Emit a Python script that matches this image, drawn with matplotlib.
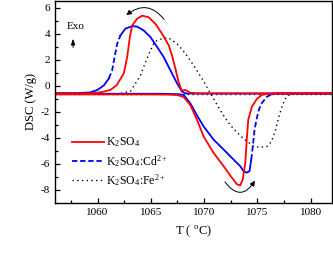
import numpy as np
import matplotlib.pyplot as plt
from matplotlib.patches import FancyArrowPatch

plt.rcParams['font.family'] = ['Liberation Serif', 'DejaVu Serif']
plt.rcParams['mathtext.fontset'] = 'stix'
plt.rcParams['axes.unicode_minus'] = False

# K2SO4 : cooling (exo) and heating (endo) branches
k_cool_T = [1056, 1058, 1059.5, 1060.3, 1061.2, 1061.8, 1062.46, 1062.78, 1063.03, 1063.24,
            1063.7, 1064.18, 1064.8, 1065.43, 1066.05, 1066.68, 1067.0, 1067.3, 1067.6,
            1067.9, 1068.24, 1068.7, 1069.5, 1072, 1076, 1082]
k_cool_D = [-0.58, -0.58, -0.56, -0.48, -0.31, 0.07, 0.96, 2.23, 3.76, 4.65,
            5.16, 5.41, 5.28, 4.78, 4.02, 3.12, 2.3, 1.35, 0.3,
            -0.35, -0.31, -0.52, -0.57, -0.57, -0.57, -0.57]
k_heat_T = [1056, 1064, 1066.5, 1067.5, 1068.08, 1068.7, 1069.33, 1069.95, 1070.89, 1071.83,
            1072.6, 1073.08, 1073.39, 1073.63, 1073.86, 1074.0, 1074.14, 1074.48, 1074.95,
            1075.42, 1075.9, 1077, 1082]
k_heat_D = [-0.65, -0.65, -0.66, -0.7, -0.85, -1.46, -2.6, -3.88, -5.15, -6.17,
            -7.05, -7.56, -7.64, -7.18, -5.91, -4.13, -2.6, -1.6, -1.0,
            -0.69, -0.6, -0.58, -0.58]

# K2SO4:Cd2+
cd_cool_T = [1056, 1058, 1059.3, 1060, 1060.6, 1061.06, 1061.37, 1061.6, 1061.84, 1062.15,
             1062.6, 1063.24, 1063.7, 1064.33, 1064.96, 1065.59, 1066.2, 1066.83, 1067.46,
             1067.93, 1068.3, 1070, 1082]
cd_cool_D = [-0.55, -0.55, -0.5, -0.3, 0.05, 0.58, 1.21, 2.23, 3.25, 3.89,
             4.4, 4.6, 4.57, 4.27, 3.76, 3.0, 2.23, 1.21, 0.2,
             -0.44, -0.58, -0.58, -0.58]
cd_heat_T = [1056, 1066, 1067.5, 1068.08, 1068.7, 1069.3, 1069.95, 1070.89, 1071.83, 1072.76,
             1073.39, 1073.7, 1074.0, 1074.26, 1074.42, 1074.57, 1074.73, 1074.95, 1075.15,
             1075.4, 1075.9, 1076.35, 1076.8, 1082]
cd_heat_D = [-0.6, -0.6, -0.63, -0.69, -1.33, -2.22, -3.11, -4.13, -4.89, -5.66,
             -6.17, -6.55, -6.67, -6.55, -5.66, -4.64, -3.37, -2.45, -1.8,
             -1.33, -0.82, -0.64, -0.57, -0.57]

# K2SO4:Fe2+
fe_T = [1056, 1062, 1063.09, 1063.56, 1064.03, 1064.33, 1064.64, 1064.96, 1065.27, 1065.59,
        1066.05, 1066.6, 1067.05, 1067.5, 1068.0, 1068.5, 1069.0, 1069.5, 1070.0, 1070.5,
        1071.0, 1071.5, 1072.0, 1072.5, 1073.0, 1073.5, 1074.0, 1074.6, 1075.2, 1075.9,
        1076.3, 1076.7, 1077.0, 1077.3, 1077.6, 1078.0, 1078.5, 1082]
fe_D = [-0.6, -0.6, -0.4, 0.2, 0.83, 1.47, 2.1, 2.74, 3.25, 3.5,
        3.63, 3.71, 3.5, 3.2, 2.74, 2.2, 1.6, 0.95, 0.3, -0.45,
        -1.15, -1.85, -2.5, -3.05, -3.5, -3.9, -4.25, -4.6, -4.72, -4.65,
        -4.3, -3.4, -2.4, -1.6, -1.0, -0.7, -0.62, -0.62]
fe_base_T = [1056, 1082]
fe_base_D = [-0.65, -0.65]

fig = plt.figure(figsize=(3.33, 2.65), dpi=100)
ax = fig.add_axes([0.165, 0.234, 0.832, 0.763])

lw = 1.3
dot = (0, (1, 2.4))
dash = (0, (3, 1.5))
ax.plot(fe_base_T, fe_base_D, color='k', lw=1.0, ls=dot)
ax.plot(fe_T, fe_D, color='k', lw=1.0, ls=dot, label='K$_\\mathregular{2}$SO$_\\mathregular{4}$:Fe$^\\mathregular{2+}$')

# blue: solid where gentle, dashed on the steep edges (as drawn in the original)
cT, cD = np.array(cd_cool_T), np.array(cd_cool_D)
ax.plot(cT[:6], cD[:6], color='b', lw=lw)
ax.plot(cT[5:10], cD[5:10], color='b', lw=lw, ls=dash)
ax.plot(cT[9:], cD[9:], color='b', lw=lw)
hT, hD = np.array(cd_heat_T), np.array(cd_heat_D)
ax.plot(hT[:15], hD[:15], color='b', lw=lw)
ax.plot(hT[14:22], hD[14:22], color='b', lw=lw, ls=dash)
ax.plot(hT[21:], hD[21:], color='b', lw=lw)
ax.plot([], [], color='b', lw=lw, ls=dash, label='K$_\\mathregular{2}$SO$_\\mathregular{4}$:Cd$^\\mathregular{2+}$')

ax.plot(k_heat_T, k_heat_D, color='r', lw=lw)
ax.plot(k_cool_T, k_cool_D, color='r', lw=lw, label='K$_\\mathregular{2}$SO$_\\mathregular{4}$')

# curved arrows
ax.add_patch(FancyArrowPatch((1066.4, 4.95), (1062.5, 5.3), connectionstyle='arc3,rad=0.55',
                             arrowstyle='-|>,head_length=3,head_width=1.5', color='k', lw=0.7))
ax.add_patch(FancyArrowPatch((1071.8, -7.2), (1074.9, -7.1), connectionstyle='arc3,rad=0.8',
                             arrowstyle='-|>,head_length=3,head_width=1.5', color='k', lw=0.7))

ax.text(1057.9, 4.55, 'Exo', fontsize=8, ha='center', va='center')
ax.annotate('', xy=(1057.7, 3.85), xytext=(1057.7, 2.75),
            arrowprops=dict(arrowstyle='-|>,head_length=0.35,head_width=0.12', color='k', lw=0.7))

h, l = ax.get_legend_handles_labels()
ax.legend(h[::-1], l[::-1], loc='upper left', bbox_to_anchor=(0.045, 0.355), frameon=False,
          fontsize=8.5, handlelength=2.7, handletextpad=0.2, labelspacing=0.3, borderaxespad=0)

ax.set_xlim(1056, 1082)
ax.set_ylim(-9, 6.55)
ax.set_xticks([1060, 1065, 1070, 1075, 1080])
ax.set_xticks(np.arange(1057.5, 1082, 5), minor=True)
ax.set_yticks(np.arange(-8, 7, 2))
ax.set_yticks(np.arange(-9, 7, 2), minor=True)
ax.tick_params(which='both', direction='in', labelsize=8, width=0.9)
ax.tick_params(which='major', length=3.5)
ax.tick_params(which='minor', length=2)
for s in ax.spines.values():
    s.set_linewidth(1.0)

ax.set_xlabel('T ( $^\\mathregular{o}$C)', fontsize=9, labelpad=5)
ax.set_ylabel('DSC (W/g)', fontsize=9, labelpad=3)

fig.savefig('out.png', dpi=100)
